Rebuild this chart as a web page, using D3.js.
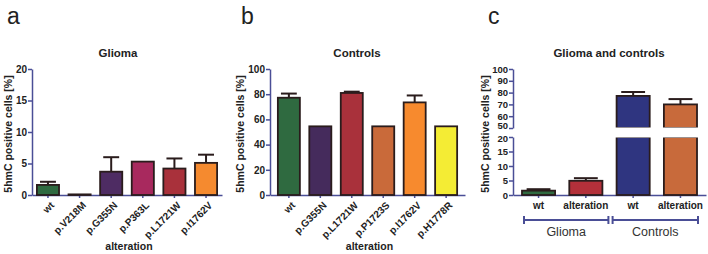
<!doctype html>
<html>
<head>
<meta charset="utf-8"/>
<script src="https://cdnjs.cloudflare.com/ajax/libs/d3/7.8.5/d3.min.js"></script>
<style>
  body { margin: 0; background: #fff; }
  svg { font-family: "Liberation Sans", Arial, sans-serif; }
</style>
</head>
<body>
<svg width="708" height="254"></svg>
<script>
// panel a - glioma
var gliomaCats = ["wt", "p.V218M", "p.G355N", "p.P363L", "p.L1721W", "p.I1762V"];
var gliomaVals = [1.6, 0.1, 3.7, 5.3, 4.2, 5.1];
var gliomaErr  = [2.1, null, 6.0, null, 5.8, 6.4];
var gliomaCols = ["#2f6a40", "#4d2c66", "#4e2c63", "#a8295e", "#a9313b", "#f58a2f"];

// panel b - controls
var ctrlCats = ["wt", "p.G355N", "p.L1721W", "p.P1723S", "p.I1762V", "p.H1778R"];
var ctrlVals = [77.2, 54.5, 81.0, 54.5, 73.5, 54.5];
var ctrlErr  = [80.5, null, 82.0, null, 79.0, null];
var ctrlCols = ["#2f6a40", "#452b5c", "#a9313b", "#c96a3a", "#f78a2e", "#f4ec34"];

// panel c - both
var bothCats   = ["wt", "alteration", "wt ", "alteration "];
var bothGroups = ["Glioma", "Glioma", "Controls", "Controls"];
var bothVals = [1.5, 4.9, 77.2, 70.0];
var bothErr  = [2.0, 5.8, 80.5, 74.5];
var bothCols = ["#2f6a40", "#b3303a", "#2f3580", "#c86a3b"];

var ticksA = [0, 5, 10, 15, 20];
var ticksB = [0, 20, 40, 60, 80, 100];
var ticksCLow = [0, 5, 10, 15, 20];
var ticksCHigh = [50, 60, 70, 80, 90, 100];

var axisCol = "#4a4e96", edge = "#2a1c1c";
var svg = d3.select("svg");
var yTop = 69, yBot = 195;

function letter(x, t) {
  svg.append("text").attr("x", x).attr("y", 24).attr("font-size", 23)
    .attr("fill", "#222").text(t);
}
function title(x, t) {
  svg.append("text").attr("x", x).attr("y", 57).attr("text-anchor", "middle")
    .attr("font-size", 11.5).attr("font-weight", "bold").attr("fill", "#222").text(t);
}
function yLabel(x) {
  svg.append("text").attr("transform", "translate(" + x + ",134) rotate(-90)")
    .attr("text-anchor", "middle").attr("font-size", 10.5).attr("font-weight", "bold")
    .attr("fill", "#222").text("5hmC positive cells [%]");
}
function styleAxis(g, fs) {
  g.selectAll("path,line").attr("stroke", axisCol).attr("stroke-width", 1.5);
  g.selectAll("text").attr("font-size", fs || 10).attr("font-weight", "bold")
    .attr("fill", "#222").attr("font-family", "Liberation Sans, Arial, sans-serif");
}

function barPanel(x0, x1, padOuter, cats, vals, errs, cols, yMax, ticks) {
  var x = d3.scaleBand().domain(cats).range([x0, x1]).paddingInner(0.3).paddingOuter(padOuter);
  var y = d3.scaleLinear().domain([0, yMax]).range([yBot, yTop]);
  var g = svg.append("g");
  var yAx = g.append("g").attr("transform", "translate(" + x0 + ",0)")
    .call(d3.axisLeft(y).tickValues(ticks).tickSize(4).tickPadding(1).tickSizeOuter(0));
  styleAxis(yAx);
  var xAx = g.append("g").attr("transform", "translate(0," + yBot + ")")
    .call(d3.axisBottom(x).tickSize(3).tickSizeOuter(0).tickFormat(""));
  styleAxis(xAx);
  cats.forEach(function (c, i) {
    var cx = x(c) + x.bandwidth() / 2;
    if (errs[i] != null) {
      g.append("line").attr("x1", cx).attr("x2", cx).attr("y1", y(vals[i])).attr("y2", y(errs[i]))
        .attr("stroke", edge).attr("stroke-width", 2);
      g.append("line").attr("x1", cx - x.bandwidth() * 0.36).attr("x2", cx + x.bandwidth() * 0.36)
        .attr("y1", y(errs[i])).attr("y2", y(errs[i])).attr("stroke", edge).attr("stroke-width", 2);
    }
    g.append("rect").attr("x", x(c)).attr("width", x.bandwidth())
      .attr("y", y(vals[i])).attr("height", Math.max(0.5, yBot - y(vals[i])))
      .attr("fill", cols[i]).attr("stroke", edge).attr("stroke-width", 1.8);
    g.append("text").attr("transform", "translate(" + (cx + 2) + "," + (yBot + 6) + ") rotate(-45)")
      .attr("text-anchor", "end").attr("dy", "0.7em").attr("font-size", 10).attr("font-weight", "bold")
      .attr("fill", "#222").text(c);
  });
  svg.append("text").attr("x", (x0 + x1) / 2 + 2).attr("y", 250).attr("text-anchor", "middle")
    .attr("font-size", 10.5).attr("font-weight", "bold").attr("fill", "#222").text("alteration");
}

letter(7, "a"); title(118, "Glioma"); yLabel(12);
barPanel(32, 222, 0.155, gliomaCats, gliomaVals, gliomaErr, gliomaCols, 20, ticksA);

letter(241, "b"); title(357, "Controls"); yLabel(244);
barPanel(270, 465, 0.25, ctrlCats, ctrlVals, ctrlErr, ctrlCols, 100, ticksB);

// panel c with broken axis
letter(488, "c"); title(609, "Glioma and controls"); yLabel(489);
var cx0 = 513, cx1 = 706;
var xc = d3.scaleBand().domain(bothCats).range([cx0, cx1]).paddingInner(0.3).paddingOuter(0.19);
var yLow = d3.scaleLinear().domain([0, 20]).range([yBot, 137]);
var yHigh = d3.scaleLinear().domain([50, 100]).range([128, yTop]);
var gc = svg.append("g");
var lowAx = gc.append("g").attr("transform", "translate(" + cx0 + ",0)")
  .call(d3.axisLeft(yLow).tickValues(ticksCLow).tickSize(4).tickPadding(1).tickSizeOuter(0));
styleAxis(lowAx, 9.5);
lowAx.selectAll(".tick text").filter(function (d) { return d === 20; }).attr("dy", "0.5em");
var highAx = gc.append("g").attr("transform", "translate(" + cx0 + ",0)")
  .call(d3.axisLeft(yHigh).tickValues(ticksCHigh).tickSize(4).tickPadding(1).tickSizeOuter(0));
styleAxis(highAx, 9.5);
highAx.selectAll(".tick text").filter(function (d) { return d === 50; }).attr("dy", "0.1em");
styleAxis(gc.append("g").attr("transform", "translate(0," + yBot + ")")
  .call(d3.axisBottom(xc).tickSize(3).tickSizeOuter(0).tickFormat("")));

bothCats.forEach(function (c, i) {
  var bx = xc(c), bw = xc.bandwidth(), mid = bx + bw / 2, v = bothVals[i], e = bothErr[i];
  var ys = v > 20 ? yHigh : yLow;
  gc.append("line").attr("x1", mid).attr("x2", mid).attr("y1", ys(v)).attr("y2", ys(e))
    .attr("stroke", edge).attr("stroke-width", 2);
  gc.append("line").attr("x1", mid - bw * 0.36).attr("x2", mid + bw * 0.36)
    .attr("y1", ys(e)).attr("y2", ys(e)).attr("stroke", edge).attr("stroke-width", 2);
  if (v > 20) {
    gc.append("rect").attr("x", bx).attr("width", bw).attr("y", yLow(20))
      .attr("height", yBot - yLow(20)).attr("fill", bothCols[i]).attr("stroke", edge).attr("stroke-width", 1.8);
    gc.append("rect").attr("x", bx).attr("width", bw).attr("y", yHigh(v))
      .attr("height", yHigh(50) - yHigh(v)).attr("fill", bothCols[i]).attr("stroke", edge).attr("stroke-width", 1.8);
    // white strip for the break
    gc.append("rect").attr("x", bx - 2).attr("width", bw + 4).attr("y", yHigh(50) - 0.5)
      .attr("height", yLow(20) - yHigh(50) + 1).attr("fill", "#fff");
  } else {
    gc.append("rect").attr("x", bx).attr("width", bw).attr("y", yLow(v))
      .attr("height", yBot - yLow(v)).attr("fill", bothCols[i]).attr("stroke", edge).attr("stroke-width", 1.8);
  }
  gc.append("text").attr("x", mid).attr("y", 209).attr("text-anchor", "middle")
    .attr("font-size", 10).attr("font-weight", "bold").attr("fill", "#222").text(c.trim());
});

// group brackets
["Glioma", "Controls"].forEach(function (grp, k) {
  var idx = bothGroups.map(function (d, i) { return d === grp ? i : -1; }).filter(function (i) { return i >= 0; });
  var a = k === 0 ? xc(bothCats[idx[0]]) + 2 : xc(bothCats[idx[0]]) - 4;
  var b = k === 0 ? xc(bothCats[idx[idx.length - 1]]) + xc.bandwidth() + 6 : xc(bothCats[idx[idx.length - 1]]) + xc.bandwidth() + 1;
  var bg = gc.append("g").attr("stroke", axisCol).attr("stroke-width", 2);
  bg.append("line").attr("x1", a).attr("x2", b).attr("y1", 220).attr("y2", 220);
  bg.append("line").attr("x1", a).attr("x2", a).attr("y1", 216).attr("y2", 224);
  bg.append("line").attr("x1", b).attr("x2", b).attr("y1", 216).attr("y2", 224);
  gc.append("text").attr("x", (a + b) / 2).attr("y", 236).attr("text-anchor", "middle")
    .attr("font-size", 12.5).attr("fill", "#333").text(grp);
});
</script>
</body>
</html>
